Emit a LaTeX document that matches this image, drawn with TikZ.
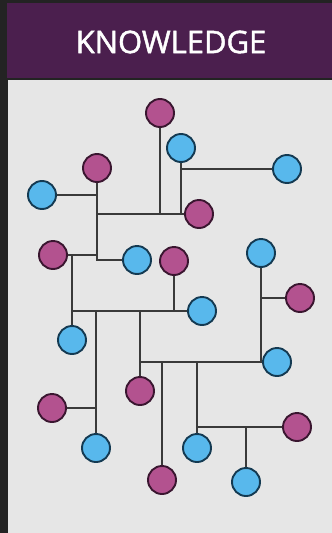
\documentclass[tikz,border=0pt]{standalone}
\usepackage{fontspec}
\setsansfont{Open Sans}[FakeBold=1.5]
\usetikzlibrary{positioning, backgrounds}

\definecolor{frameGray}{HTML}{232323}
\definecolor{headPurple}{HTML}{4B1F4E}
\definecolor{bodyGray}{HTML}{E6E6E6}
\definecolor{magFill}{HTML}{B3528F}
\definecolor{magLine}{HTML}{3A1630}
\definecolor{cyaFill}{HTML}{58B8EC}
\definecolor{cyaLine}{HTML}{143A52}
\definecolor{linkGray}{HTML}{3A3A3A}

\begin{document}
\begin{tikzpicture}[
    x=1pt, y=-1pt,
    % --- STILURI VIZUALE ---
    mag/.style={
            circle,
            draw=magLine,
            fill=magFill,
            line width=1.9pt,
            minimum size=28pt,
            inner sep=0pt
        },
    cya/.style={
            circle,
            draw=cyaLine,
            fill=cyaFill,
            line width=1.9pt,
            minimum size=28pt,
            inner sep=0pt
        },
    link/.style={
            draw=linkGray,
            line width=2.8pt
        },
    title/.style={
            text=white,
            font=\sffamily\fontsize{31}{33}\selectfont
        }
    ]

    % --- FUNDAL ---
    \useasboundingbox (0,0) rectangle (332,533);
    \begin{scope}[on background layer]
        \fill[frameGray] (0,0) rectangle (332,533);
        \fill[headPurple] (7,3) rectangle (332,78);
        \fill[bodyGray] (8,80) rectangle (332,533);
    \end{scope}
    \node[title] (head) at (171,42) {KNOWLEDGE};

    % --- NODURI ---
    \node[mag] (mag1) at (160,113) {};
    \node[cya] (cya1) at (181,148) {};
    \node[cya] (cya2) at (287,169) {};
    \node[mag] (mag2) at (97,168) {};
    \node[cya] (cya3) at (42,195) {};
    \node[mag] (mag3) at (199,214) {};
    \node[mag] (mag4) at (53,255) {};
    \node[cya] (cya4) at (137,260) {};
    \node[mag] (mag5) at (174,261) {};
    \node[cya] (cya5) at (261,253) {};
    \node[mag] (mag6) at (300,298) {};
    \node[cya] (cya6) at (202,311) {};
    \node[cya] (cya7) at (72,340) {};
    \node[cya] (cya8) at (277,362) {};
    \node[mag] (mag7) at (140,391) {};
    \node[mag] (mag8) at (52,408) {};
    \node[mag] (mag9) at (297,427) {};
    \node[cya] (cya9) at (96,448) {};
    \node[cya] (cya10) at (197,448) {};
    \node[mag] (mag10) at (162,480) {};
    \node[cya] (cya11) at (246,482) {};

    % --- PUNCTE DE JONCTIUNE ---
    \coordinate (j1) at (97,195);
    \coordinate (j2) at (97,214);
    \coordinate (j3) at (160,214);
    \coordinate (j4) at (181,214);
    \coordinate (j5) at (181,169);
    \coordinate (j6) at (97,255);
    \coordinate (j7) at (97,260);
    \coordinate (j8) at (72,255);
    \coordinate (j9) at (72,311);
    \coordinate (j10) at (96,311);
    \coordinate (j11) at (140,311);
    \coordinate (j12) at (174,311);
    \coordinate (j13) at (96,408);
    \coordinate (j14) at (140,362);
    \coordinate (j15) at (261,362);
    \coordinate (j16) at (261,298);
    \coordinate (j17) at (162,362);
    \coordinate (j18) at (197,362);
    \coordinate (j19) at (197,427);
    \coordinate (j20) at (246,427);

    % --- CONEXIUNI ---
    % ramura de sus
    \draw[link] (mag1) -- (j3);
    \draw[link] (cya1) -- (j4);
    \draw[link] (j5) -- (cya2);
    \draw[link] (j2) -- (mag3);
    \draw[link] (cya3) -- (j1);
    \draw[link] (mag2) -- (j7) -- (cya4);
    \draw[link] (mag4) -- (j6);

    % ramura din mijloc
    \draw[link] (j8) -- (cya7);
    \draw[link] (j9) -- (cya6);
    \draw[link] (mag5) -- (j12);
    \draw[link] (j10) -- (cya9);
    \draw[link] (mag8) -- (j13);
    \draw[link] (j11) -- (mag7);
    \draw[link] (j14) -- (cya8);
    \draw[link] (cya5) -- (j15);
    \draw[link] (j16) -- (mag6);

    % ramura de jos
    \draw[link] (j17) -- (mag10);
    \draw[link] (j18) -- (cya10);
    \draw[link] (j19) -- (mag9);
    \draw[link] (j20) -- (cya11);

\end{tikzpicture}
\end{document}
